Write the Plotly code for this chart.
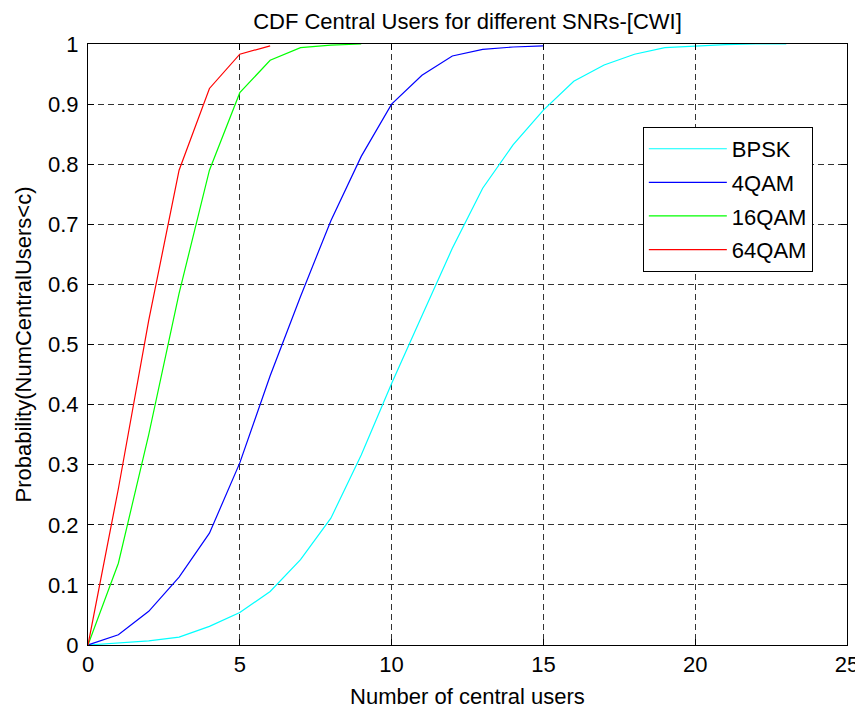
import plotly.graph_objects as go

# Data
x_bpsk = list(range(0, 24))
y_bpsk = [0, 0.004, 0.007, 0.013, 0.031, 0.054, 0.089, 0.142, 0.211, 0.316, 0.435, 0.548,
          0.66, 0.76, 0.832, 0.89, 0.938, 0.965, 0.983, 0.994, 0.997, 0.999, 1.0, 1.0]
x_4qam = list(range(0, 16))
y_4qam = [0, 0.017, 0.056, 0.113, 0.186, 0.303, 0.448, 0.58, 0.706, 0.813, 0.9, 0.948,
          0.98, 0.991, 0.995, 0.997]
x_16qam = list(range(0, 10))
y_16qam = [0, 0.136, 0.35, 0.585, 0.79, 0.919, 0.973, 0.994, 0.998, 1.0]
x_64qam = list(range(0, 7))
y_64qam = [0, 0.26, 0.54, 0.79, 0.926, 0.983, 0.997]

series_names = ["BPSK", "4QAM", "16QAM", "64QAM"]
series_colors = ["#00FFFF", "#0000FF", "#00FF00", "#FF0000"]

x_ticks = [0, 5, 10, 15, 20, 25]
y_ticks = [0, 0.1, 0.2, 0.3, 0.4, 0.5, 0.6, 0.7, 0.8, 0.9, 1.0]
y_tick_labels = ["0", "0.1", "0.2", "0.3", "0.4", "0.5", "0.6", "0.7", "0.8", "0.9", "1"]

FONT = "Liberation Sans, Arial, sans-serif"
FS = 22

fig = go.Figure()
for xs, ys, name, col in zip([x_bpsk, x_4qam, x_16qam, x_64qam],
                             [y_bpsk, y_4qam, y_16qam, y_64qam],
                             series_names, series_colors):
    fig.add_trace(go.Scatter(x=xs, y=ys, mode="lines", name=name, legendgroup=name,
                             line=dict(color=col, width=1.2)))

axis_common = dict(
    showline=True, linecolor="black", linewidth=1, mirror="allticks",
    ticks="inside", ticklen=6, tickcolor="black", tickwidth=1,
    showgrid=True, gridcolor="#333333", gridwidth=1, griddash="6px,4px",
    zeroline=False, tickfont=dict(family=FONT, size=FS, color="black"),
)

fig.update_xaxes(range=[0, 25], tickvals=x_ticks, ticktext=[str(v) for v in x_ticks],
                 title=dict(text="Number of central users", font=dict(family=FONT, size=FS, color="black"),
                            standoff=13),
                 **axis_common)
fig.update_yaxes(range=[0, 1], tickvals=y_ticks, ticktext=y_tick_labels, ticklabelstandoff=4,
                 title=dict(text="Probability(NumCentralUsers<c)", font=dict(family=FONT, size=FS, color="black"),
                            standoff=10),
                 **axis_common)

# page body has an 8px margin: the figure is drawn 8px right and down
fig.update_layout(
    width=855, height=701,
    margin=dict(l=80, r=16, t=36, b=64, autoexpand=False),
    paper_bgcolor="white", plot_bgcolor="white",
    title=dict(text="CDF Central Users for different SNRs-[CWI]", x=0.5, xref="paper", xanchor="center",
               y=1 - 13 / 701, yref="container", yanchor="middle",
               font=dict(family=FONT, size=FS, color="black")),
    legend=dict(x=0.731, y=0.862, xanchor="left", yanchor="top",
                bgcolor="white", bordercolor="black", borderwidth=1,
                font=dict(family=FONT, size=FS, color="black"),
                itemwidth=78, tracegroupgap=2, entrywidth=178),
    showlegend=True,
)

fig.write_html("out.html")
